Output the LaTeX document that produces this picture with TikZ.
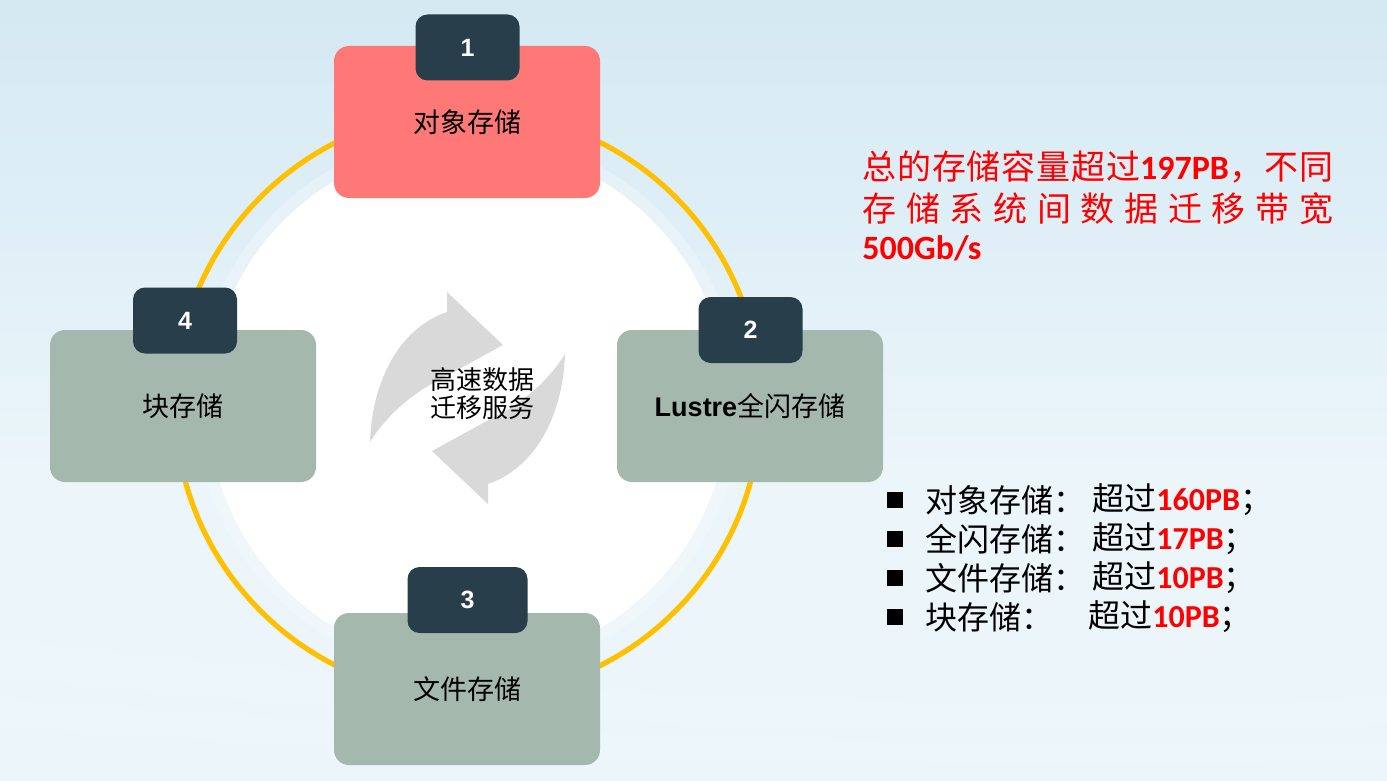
\documentclass[tikz,border=0pt]{standalone}
\usepackage{fontspec}
\newfontfamily\cjk{Noto Sans CJK SC}
\newfontfamily\arial{Liberation Sans}
\newfontfamily\calib{Carlito}
\definecolor{bgtop}{RGB}{205,229,241}
\definecolor{bgmid}{RGB}{235,245,250}
\definecolor{bglow}{RGB}{214,233,243}
\definecolor{bgbot}{RGB}{186,218,234}
\definecolor{ringc}{RGB}{255,192,0}
\definecolor{pinkc}{RGB}{255,120,120}
\definecolor{sagec}{RGB}{165,184,174}
\definecolor{tabc}{RGB}{40,62,74}
\definecolor{arrowc}{RGB}{217,217,217}
\definecolor{redc}{RGB}{255,0,0}
\pgfdeclareverticalshading{bgshade}{100bp}{color(0bp)=(bgbot); color(10bp)=(bglow); color(24bp)=(bgmid); color(45bp)=(bgmid); color(85bp)=(bgtop); color(100bp)=(bgtop)}
\begin{document}
\begin{tikzpicture}[x=0.5pt,y=-0.5pt,
  card/.style={rounded corners=7.5pt, minimum width=133pt, minimum height=76pt,
    inner sep=0pt, font=\cjk\fontsize{13.5}{16}\selectfont},
  tab/.style={fill=tabc, rounded corners=6pt, minimum height=33pt, minimum width=52pt,
    inner sep=0pt, text=white, font=\arial\bfseries\fontsize{12.5}{15}\selectfont},
  redline/.style={anchor=west, inner sep=0pt, text=redc, font=\cjk\fontsize{17}{20}\selectfont},
  listtext/.style={anchor=west, inner sep=0pt, font=\cjk\fontsize{16}{19}\selectfont},
  bullet/.style={fill=black, minimum size=8pt, inner sep=0pt},
  cyclearrow/.style={fill=arrowc}]
\useasboundingbox (0,0) rectangle (1387,781);

% background
\shade[shading=bgshade] (0,0) rectangle (1387,781);
\fill[white, opacity=0.14] (0,640) .. controls (400,690) and (900,715) .. (1387,700)
  -- (1387,722) .. controls (900,740) and (400,720) .. (0,675) -- cycle;
\fill[white, opacity=0.10] (0,700) .. controls (450,735) and (950,750) .. (1387,745)
  -- (1387,760) .. controls (950,768) and (450,758) .. (0,725) -- cycle;

% disc and ring
\fill[white, opacity=0.25] (468,404) circle [radius=136pt];
\fill[white] (468,404) circle [radius=130pt];
\draw[ringc, line width=2.6pt] (468,404) circle [radius=146.5pt];

% circular arrows (second one is the first turned half way round)
\fill[cyclearrow] (370,442) .. controls (372,380) and (400,328) .. (447,312)
  -- (447,292) -- (503,345) -- (428,386)
  .. controls (405,400) and (385,418) .. (370,442) -- cycle;
\begin{scope}[rotate around={180:(467.5,398)}]
\fill[cyclearrow] (370,442) .. controls (372,380) and (400,328) .. (447,312)
  -- (447,292) -- (503,345) -- (428,386)
  .. controls (405,400) and (385,418) .. (370,442) -- cycle;
\end{scope}
\node[align=center, inner sep=0pt, font=\cjk\fontsize{13}{14}\selectfont] (ctr) at (482,394)
  {高速数据\\迁移服务};

% storage cards
\node[card, fill=pinkc] (b1) at (467,122) {对象存储};
\node[card, fill=sagec] (b2) at (750,406) {{\arial\bfseries Lustre}全闪存储};
\node[card, fill=sagec] (b3) at (467,689) {文件存储};
\node[card, fill=sagec] (b4) at (183,406) {块存储};

% number tabs
\node[tab] (t1) at (467.5,47.5) {1};
\node[tab] (t2) at (750.5,330) {2};
\node[tab, minimum width=60pt] (t3) at (467.5,600) {3};
\node[tab] (t4) at (185,320.5) {4};

% summary text
\node[redline] (r1) at (862,167) {\makebox[235.5pt][s]{总\hfil 的\hfil 存\hfil 储\hfil 容\hfil 量\hfil 超\hfil 过{\calib\bfseries 197PB}\hfil ，\hfil 不\hfil 同}};
\node[redline] (r2) at (862,209) {\makebox[235.5pt][s]{存\hfill 储\hfill 系\hfill 统\hfill 间\hfill 数\hfill 据\hfill 迁\hfill 移\hfill 带\hfill 宽}};
\node[redline, font=\calib\bfseries\fontsize{17}{20}\selectfont] (r3) at (862,248) {500Gb/s};

% capacity list
\node[bullet] (q1) at (895,500) {};
\node[bullet] (q2) at (895,539) {};
\node[bullet] (q3) at (895,578) {};
\node[bullet] (q4) at (895,617) {};
\node[listtext] (l1) at (925,500) {对象存储：};
\node[listtext] (l2) at (925,539) {全闪存储：};
\node[listtext] (l3) at (925,578) {文件存储：};
\node[listtext] (l4) at (925,617) {块存储：};
\node[listtext] (v1) at (1092,500) {超过{\calib\bfseries\color{redc}160PB}；};
\node[listtext] (v2) at (1092,539) {超过{\calib\bfseries\color{redc}17PB}；};
\node[listtext] (v3) at (1092,578) {超过{\calib\bfseries\color{redc}10PB}；};
\node[listtext] (v4) at (1088,617) {超过{\calib\bfseries\color{redc}10PB}；};
\end{tikzpicture}
\end{document}
